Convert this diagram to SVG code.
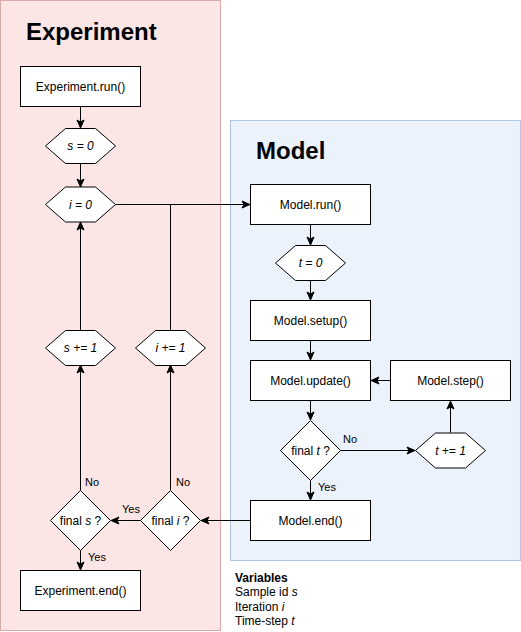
<svg xmlns="http://www.w3.org/2000/svg" width="521" height="632" viewBox="0 0 521 632">
<defs>
<marker id="arr" markerUnits="userSpaceOnUse" markerWidth="10" markerHeight="10" viewBox="0 0 10 10" refX="9" refY="5" orient="auto">
<path d="M1,1.5 L9,5 L1,8.5 L3,5 Z" fill="#000" stroke="#000" stroke-width="1"/>
</marker>
<style>
.box{fill:#fff;stroke:#000;stroke-width:1}
.t{font-family:"Liberation Sans",Arial,Helvetica,sans-serif;font-size:12px;fill:#000;text-anchor:middle}
.lbl{font-family:"Liberation Sans",Arial,Helvetica,sans-serif;font-size:11px;fill:#000}
.title{font-family:"Liberation Sans",Arial,Helvetica,sans-serif;font-size:24px;font-weight:bold;fill:#000}
.var{font-family:"Liberation Sans",Arial,Helvetica,sans-serif;font-size:12px;fill:#000}
.e{fill:none;stroke:#000;stroke-width:1}
.ea{fill:none;stroke:#000;stroke-width:1;marker-end:url(#arr)}
</style>
</defs>

<g id="experiment-container">
<rect x="0.5" y="0.5" width="220" height="630" fill="#fbe6e5" stroke="#dba9a7"/>
<text class="title" x="26" y="40">Experiment</text>
</g>
<g id="model-container">
<rect x="230.5" y="120.5" width="290" height="440" fill="#ecf2fc" stroke="#b0c6e6"/>
<text class="title" x="256" y="159">Model</text>
</g>

<g id="connectors">
<path class="ea" d="M80.5,106.5 L80.5,128"/>
<path class="ea" d="M80.5,163.5 L80.5,187"/>
<path class="ea" d="M115.5,204.5 L250,204.5"/>
<path class="ea" d="M80.5,330.5 L80.5,222"/>
<path class="e" d="M170.5,330.5 L170.5,204.5"/>
<path class="ea" d="M80.5,490.5 L80.5,365"/>
<path class="ea" d="M170.5,490.5 L170.5,365"/>
<path class="ea" d="M140.5,520.5 L111,520.5"/>
<path class="ea" d="M80.5,550.5 L80.5,570"/>
<path class="ea" d="M250.5,520.5 L201,520.5"/>
<path class="ea" d="M310.5,224.5 L310.5,245"/>
<path class="ea" d="M310.5,280.5 L310.5,300"/>
<path class="ea" d="M310.5,340.5 L310.5,360"/>
<path class="ea" d="M310.5,400.5 L310.5,420"/>
<path class="ea" d="M340.5,450.5 L415,450.5"/>
<path class="ea" d="M310.5,480.5 L310.5,500"/>
<path class="ea" d="M450.5,432.5 L450.5,401"/>
<path class="ea" d="M390.5,380.5 L371,380.5"/>
<text class="lbl" x="85" y="486">No</text>
<text class="lbl" x="176" y="486">No</text>
<text class="lbl" x="122" y="513">Yes</text>
<text class="lbl" x="88" y="561">Yes</text>
<text class="lbl" x="343" y="443">No</text>
<text class="lbl" x="318" y="491">Yes</text>
</g>

<g id="experiment-run">
<rect class="box" x="20.5" y="66.5" width="120" height="40"/>
<text class="t" x="80.5" y="90.5">Experiment.run()</text>
</g>
<g id="s-init">
<polygon class="box" points="45.5,146 65.5,128.5 95.5,128.5 115.5,146 95.5,163.5 65.5,163.5"/>
<text class="t" x="80.5" y="150" font-style="italic">s = 0</text>
</g>
<g id="i-init">
<polygon class="box" points="45.5,204.5 65.5,187 95.5,187 115.5,204.5 95.5,222 65.5,222"/>
<text class="t" x="80.5" y="208.5" font-style="italic">i = 0</text>
</g>
<g id="s-inc">
<polygon class="box" points="45.5,348 65.5,330.5 95.5,330.5 115.5,348 95.5,365.5 65.5,365.5"/>
<text class="t" x="80.5" y="352" font-style="italic">s += 1</text>
</g>
<g id="i-inc">
<polygon class="box" points="135.5,348 155.5,330.5 185.5,330.5 205.5,348 185.5,365.5 155.5,365.5"/>
<text class="t" x="170.5" y="352" font-style="italic">i += 1</text>
</g>
<g id="final-s">
<polygon class="box" points="80.5,490.5 110.5,520.5 80.5,550.5 50.5,520.5"/>
<text class="t" x="80.5" y="524.5">final <tspan font-style="italic">s</tspan> ?</text>
</g>
<g id="final-i">
<polygon class="box" points="170.5,490.5 200.5,520.5 170.5,550.5 140.5,520.5"/>
<text class="t" x="170.5" y="524.5">final <tspan font-style="italic">i</tspan> ?</text>
</g>
<g id="experiment-end">
<rect class="box" x="20.5" y="570.5" width="120" height="40"/>
<text class="t" x="80.5" y="594.5">Experiment.end()</text>
</g>

<g id="model-run">
<rect class="box" x="250.5" y="184.5" width="120" height="40"/>
<text class="t" x="310.5" y="208.5">Model.run()</text>
</g>
<g id="t-init">
<polygon class="box" points="275.5,263 295.5,245.5 325.5,245.5 345.5,263 325.5,280.5 295.5,280.5"/>
<text class="t" x="310.5" y="267" font-style="italic">t = 0</text>
</g>
<g id="model-setup">
<rect class="box" x="250.5" y="300.5" width="120" height="40"/>
<text class="t" x="310.5" y="324.5">Model.setup()</text>
</g>
<g id="model-update">
<rect class="box" x="250.5" y="360.5" width="120" height="40"/>
<text class="t" x="310.5" y="384.5">Model.update()</text>
</g>
<g id="model-step">
<rect class="box" x="390.5" y="360.5" width="120" height="40"/>
<text class="t" x="450.5" y="384.5">Model.step()</text>
</g>
<g id="final-t">
<polygon class="box" points="310.5,420.5 340.5,450.5 310.5,480.5 280.5,450.5"/>
<text class="t" x="310.5" y="454.5">final <tspan font-style="italic">t</tspan> ?</text>
</g>
<g id="t-inc">
<polygon class="box" points="415.5,450.5 435.5,433 465.5,433 485.5,450.5 465.5,468 435.5,468"/>
<text class="t" x="450.5" y="454.5" font-style="italic">t += 1</text>
</g>
<g id="model-end">
<rect class="box" x="250.5" y="500.5" width="120" height="40"/>
<text class="t" x="310.5" y="524.5">Model.end()</text>
</g>

<g id="variables">
<text class="var" x="235" y="582" font-weight="bold">Variables</text>
<text class="var" x="235" y="596">Sample id <tspan font-style="italic">s</tspan></text>
<text class="var" x="235" y="611">Iteration <tspan font-style="italic">i</tspan></text>
<text class="var" x="235" y="625">Time-step <tspan font-style="italic">t</tspan></text>
</g>
</svg>
